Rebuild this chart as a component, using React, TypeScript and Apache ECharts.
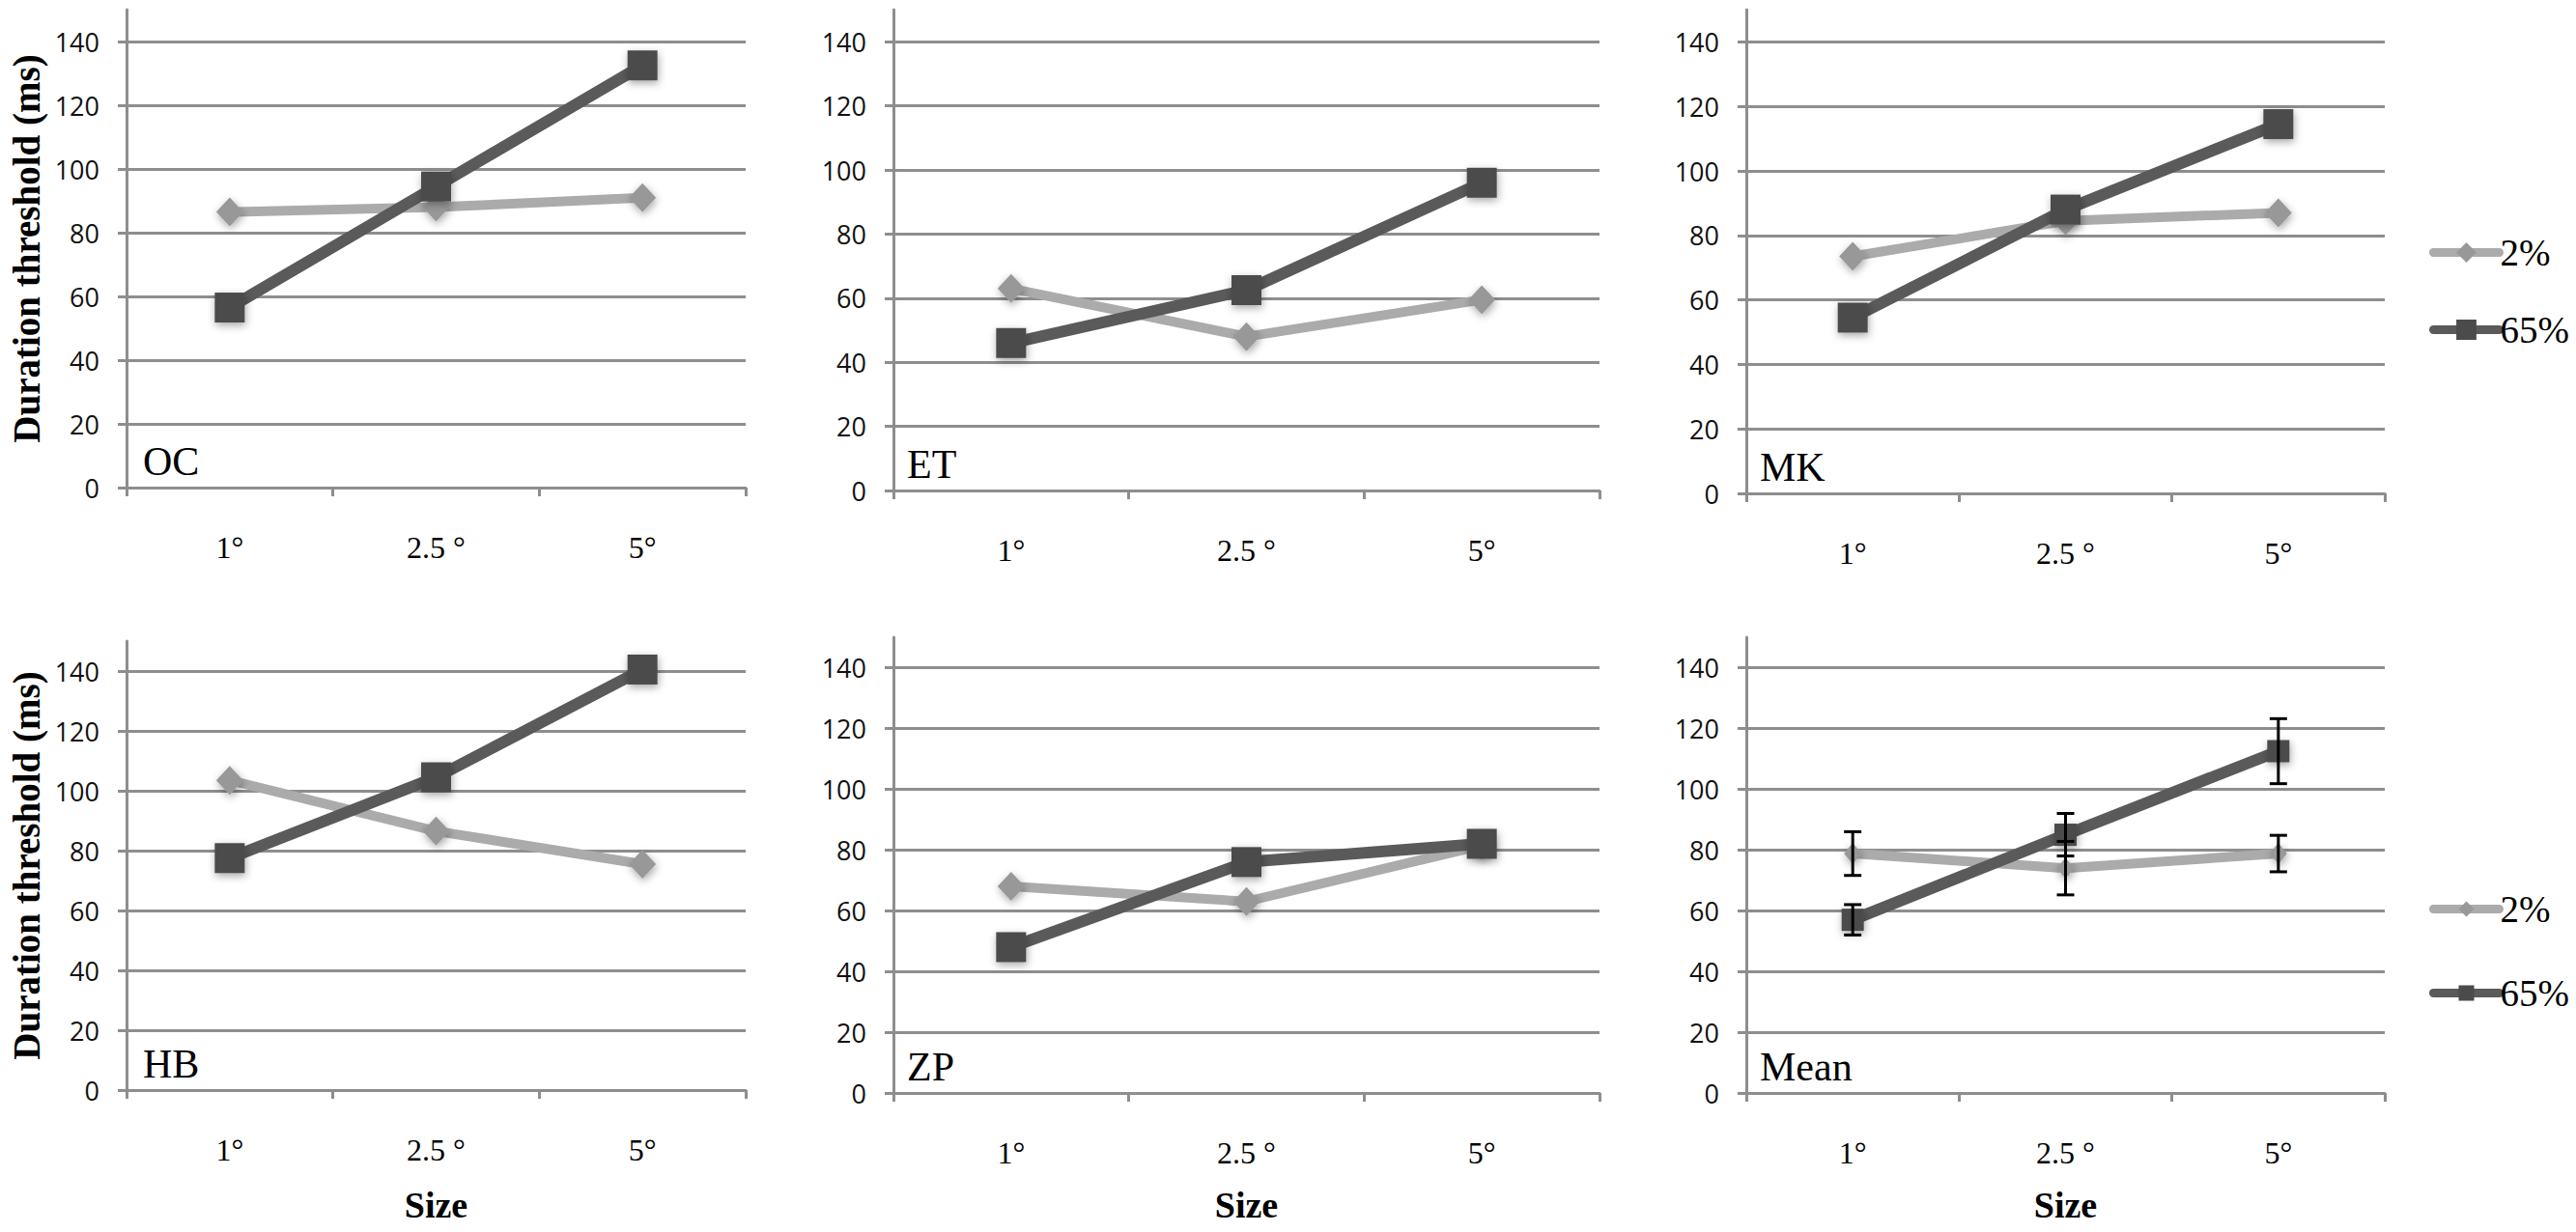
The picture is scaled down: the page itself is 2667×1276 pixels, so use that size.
import React, { useEffect, useRef } from 'react';
import * as echarts from 'echarts';

// ---------- data ----------
const categories = ['1°', '2.5 °', '5°'];
const panelNames = ['OC', 'ET', 'MK', 'HB', 'ZP', 'Mean'];
const seriesNames = ['2%', '65%'];
const yTickValues = [0, 20, 40, 60, 80, 100, 120, 140];
const yMax = 150;

const oc2 = [86.5, 88, 91];
const oc65 = [56.5, 94.5, 132.5];
const et2 = [63, 48, 59.5];
const et65 = [46, 62.5, 96];
const mk2 = [73.5, 84.5, 87];
const mk65 = [54.5, 88, 114.5];
const hb2 = [103.5, 86.5, 75.5];
const hb65 = [77.5, 104.5, 140.5];
const zp2 = [68, 63, 81.5];
const zp65 = [48, 76, 82];
const mean2 = [78.8, 74, 78.8];
const mean65 = [57, 85, 112.5];
const mean2Err = [7.2, 8.8, 6];
const mean65Err = [5, 7, 10.7];

const low = [oc2, et2, mk2, hb2, zp2, mean2];
const high = [oc65, et65, mk65, hb65, zp65, mean65];

// ---------- layout / style ----------
const gridBoxes = [
  { left: 131, top: 10, width: 641, height: 495 },
  { left: 925, top: 10, width: 731, height: 498 },
  { left: 1808, top: 10, width: 661, height: 501 },
  { left: 131, top: 664, width: 641, height: 465 },
  { left: 925, top: 660, width: 731, height: 472 },
  { left: 1808, top: 660, width: 661, height: 472 },
];
const GRID = '#8e8e8e';
const LIGHT = '#ababab';
const LIGHT_M = '#989898';
const DARK = '#5a5a5a';
const DARK_M = '#4b4b4b';
const SERIF = '"Liberation Serif", "Times New Roman", serif';
const SANS = '"Open Sans", "DejaVu Sans", sans-serif';

export default function App() {
  const ref = useRef<HTMLDivElement>(null);
  useEffect(() => {
    document.body.style.margin = '0';
    document.body.style.overflow = 'hidden';
    if (!ref.current) return;
    const chart = echarts.init(ref.current, undefined, { renderer: 'svg' });

    const shadow = {
      shadowBlur: 8,
      shadowColor: 'rgba(0,0,0,0.35)',
      shadowOffsetX: 1,
      shadowOffsetY: 3,
    };

    const xAxes = gridBoxes.map((_, i) => ({
      gridIndex: i,
      type: 'category',
      data: categories,
      boundaryGap: true,
      axisLine: { show: true, lineStyle: { color: GRID, width: 3 } },
      axisTick: { show: true, interval: 0, length: 9, lineStyle: { color: GRID, width: 3 } },
      axisLabel: { margin: 46, fontFamily: SERIF, fontSize: 32, color: '#000' },
      splitLine: { show: false },
    }));

    const splitColors = [...yTickValues.map(() => GRID), 'rgba(0,0,0,0)'];
    const yAxes = gridBoxes.map((_, i) => ({
      gridIndex: i,
      type: 'value',
      min: 0,
      max: yMax,
      interval: 20,
      axisLine: { show: true, lineStyle: { color: GRID, width: 3 } },
      axisTick: { show: true, length: 9, lineStyle: { color: GRID, width: 3 }, customValues: yTickValues },
      axisLabel: {
        customValues: yTickValues,
        formatter: (v: number) => (v === yMax ? '' : String(v)),
        margin: 28,
        fontFamily: SANS,
        fontSize: 27,
        color: '#111',
      },
      splitLine: { show: true, lineStyle: { color: splitColors, width: 3 } },
    }));

    const series: any[] = [];
    gridBoxes.forEach((_, i) => {
      const isMean = i === 5;
      series.push({
        type: 'line',
        name: seriesNames[0],
        xAxisIndex: i,
        yAxisIndex: i,
        data: low[i],
        symbol: 'diamond',
        symbolSize: isMean ? [18, 22] : [28, 30],
        lineStyle: { color: LIGHT, width: 10, cap: 'round' },
        itemStyle: { color: LIGHT_M, ...shadow },
        emphasis: { disabled: true },
        z: 2,
      });
      series.push({
        type: 'line',
        name: seriesNames[1],
        xAxisIndex: i,
        yAxisIndex: i,
        data: high[i],
        symbol: 'rect',
        symbolSize: isMean ? 23 : 31,
        lineStyle: { color: DARK, width: 12, cap: 'round' },
        itemStyle: { color: DARK_M, ...shadow },
        emphasis: { disabled: true },
        z: 3,
      });
    });

    const errData = [
      ...mean2.map((v, k) => [k, v - mean2Err[k], v + mean2Err[k]]),
      ...mean65.map((v, k) => [k, v - mean65Err[k], v + mean65Err[k]]),
    ];
    series.push({
      type: 'custom',
      xAxisIndex: 5,
      yAxisIndex: 5,
      data: errData,
      encode: { x: 0, y: [1, 2] },
      silent: true,
      z: 10,
      renderItem: (params: any, api: any) => {
        const x = api.value(0);
        const top = api.coord([x, api.value(2)]);
        const bot = api.coord([x, api.value(1)]);
        const w = 9;
        const st = { stroke: '#000', lineWidth: 3 };
        return {
          type: 'group',
          children: [
            { type: 'line', shape: { x1: top[0], y1: top[1], x2: bot[0], y2: bot[1] }, style: st },
            { type: 'line', shape: { x1: top[0] - w, y1: top[1], x2: top[0] + w, y2: top[1] }, style: st },
            { type: 'line', shape: { x1: bot[0] - w, y1: bot[1], x2: bot[0] + w, y2: bot[1] }, style: st },
          ],
        };
      },
    });

    const textEl = (text: string, x: number, y: number, size: number, opts: any = {}) => ({
      type: 'text',
      x,
      y,
      rotation: opts.rotation || 0,
      silent: true,
      style: {
        text,
        fontFamily: SERIF,
        fontSize: size,
        fontWeight: opts.bold ? 'bold' : 'normal',
        fill: '#000',
        align: opts.align || 'center',
        textAlign: opts.align || 'center',
        verticalAlign: 'middle',
        textVerticalAlign: 'middle',
      },
    });

    const graphics: any[] = [];
    // y axis titles
    [0, 3].forEach((gi) => {
      const g = gridBoxes[gi];
      graphics.push(textEl('Duration threshold (ms)', 27, g.top + g.height / 2, 39, { bold: true, rotation: Math.PI / 2 }));
    });
    // x axis titles
    [3, 4, 5].forEach((gi) => {
      const g = gridBoxes[gi];
      graphics.push(textEl('Size', g.left + g.width / 2, 1248, 38, { bold: true }));
    });
    // panel labels
    panelNames.forEach((name, gi) => {
      const g = gridBoxes[gi];
      graphics.push(textEl(name, g.left + (gi % 3 === 0 ? 17 : 14), g.top + g.height - 27, 42, { align: 'left' }));
    });

    const legendBase = {
      orient: 'vertical',
      left: 2515,
      padding: 0,
      itemWidth: 68,
      selectedMode: false,
      data: seriesNames,
      lineStyle: { width: 9, cap: 'round' },
      textStyle: { fontFamily: SERIF, fontSize: 39, color: '#000', padding: [6, 0, 0, -4] },
    };

    chart.setOption({
      animation: false,
      backgroundColor: '#ffffff',
      grid: gridBoxes.map((g) => ({ ...g, containLabel: false })),
      xAxis: xAxes,
      yAxis: yAxes,
      legend: [
        { ...legendBase, top: 242, itemHeight: 26, itemGap: 41 },
        { ...legendBase, top: 922, itemHeight: 20, itemGap: 48 },
      ],
      series,
      graphic: graphics,
    });

    return () => chart.dispose();
  }, []);
  return <div ref={ref} style={{ width: 2667, height: 1276 }} />;
}
